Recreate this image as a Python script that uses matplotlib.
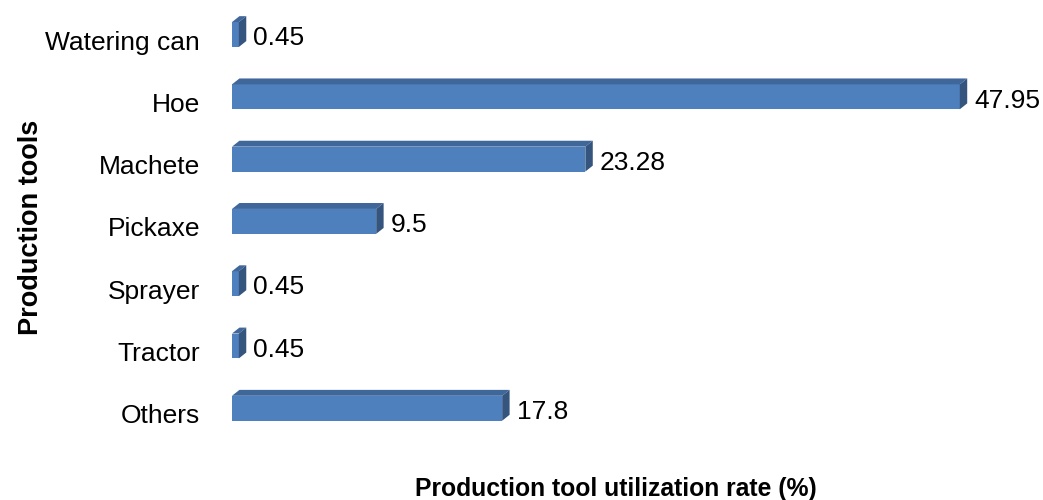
import matplotlib
matplotlib.use("Agg")
import matplotlib.pyplot as plt
from matplotlib.patches import Polygon

plt.rcParams['font.family'] = ['Liberation Sans', 'DejaVu Sans']

categories = ["Watering can", "Hoe", "Machete", "Pickaxe", "Sprayer", "Tractor", "Others"]
values = [0.45, 47.95, 23.28, 9.5, 0.45, 0.45, 17.8]
value_labels = ["0.45", "47.95", "23.28", "9.5", "0.45", "0.45", "17.8"]

FRONT = "#4E80BD"
TOP = "#40679A"
SIDE = "#35557F"
FS = 19
FS_B = 17.8
FS_YL = 19.5

fig = plt.figure(figsize=(10.43, 5.0), dpi=100)
ax = fig.add_axes([232/1043, 1 - 445/500, 768/1043, 436/500])

xmax = 50.6
ax.set_xlim(0, xmax)
ax.set_ylim(len(categories) - 0.5, -0.5)

bar_h = 0.40
shift = -0.09
dx = 0.49
dy = 0.095

for i, (v, lab) in enumerate(zip(values, value_labels)):
    yc = i + shift
    ax.barh(yc, v, height=bar_h, color=FRONT, edgecolor="none", zorder=2)
    top_y = yc - bar_h / 2
    bot_y = yc + bar_h / 2
    ax.add_patch(Polygon([(0, top_y), (v, top_y), (v + dx, top_y - dy), (dx, top_y - dy)],
                         closed=True, facecolor=TOP, edgecolor="none", zorder=2))
    ax.add_patch(Polygon([(v, top_y), (v + dx, top_y - dy), (v + dx, bot_y - dy), (v, bot_y)],
                         closed=True, facecolor=SIDE, edgecolor="none", zorder=2))
    ax.annotate(lab, xy=(v + dx, i - 0.03), xytext=(5, 0), textcoords="offset points",
                ha="left", va="center", fontsize=FS, color="black")

ax.set_yticks(range(len(categories)))
ax.set_yticklabels(categories, fontsize=FS)
ax.set_xticks([])
ax.tick_params(axis="y", length=0, pad=23)
for s in ax.spines.values():
    s.set_visible(False)

ax.set_xlabel("Production tool utilization rate (%)", fontsize=FS_B, fontweight="bold")
ax.xaxis.set_label_coords(0.5, (445 - 477) / 436)
ax.set_ylabel("Production tools", fontsize=FS_YL, fontweight="bold")
ax.yaxis.set_label_coords((44 - 232) / 768, 0.5)

fig.savefig("out.png", dpi=100)
